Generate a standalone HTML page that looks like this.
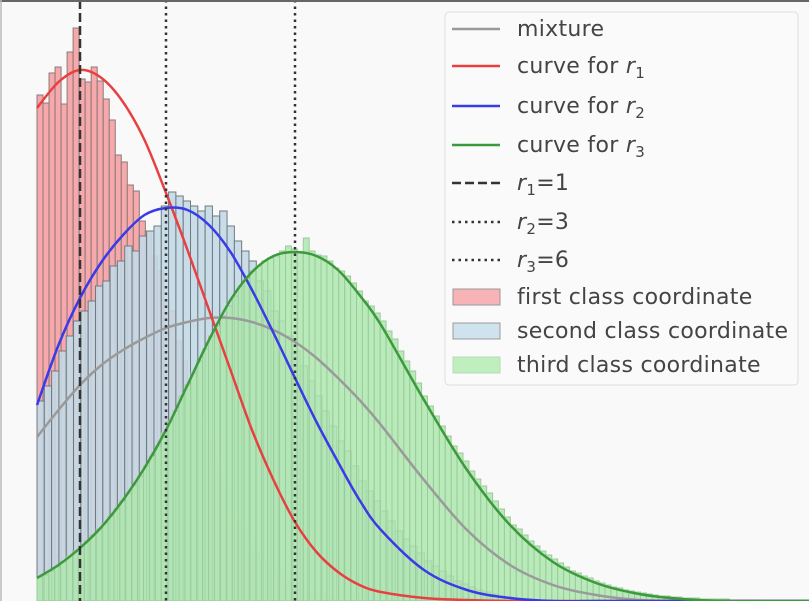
<!DOCTYPE html>
<html><head><meta charset="utf-8"><style>
html,body{margin:0;padding:0;background:#fff;}
svg{display:block;font-family:"DejaVu Sans","Liberation Sans",sans-serif;}
</style></head><body>
<svg id="chart" width="809" height="601" viewBox="0 0 809 601">
<rect x="0" y="0" width="809" height="601" fill="#f9f9f9"/>
<g id="bars"></g><g id="curves"></g><g id="vlines"></g>
<line x1="0" y1="1" x2="809" y2="1" stroke="#666" stroke-width="2"/>
<line x1="1" y1="0" x2="1" y2="601" stroke="#bbb" stroke-width="1.5"/>
<g id="legend">
<rect x="445" y="12" width="353" height="373" rx="4" fill="#fafafa" fill-opacity="0.85" stroke="#ddd"/>
<g font-size="22" fill="#444" letter-spacing="0.3">
<line x1="452" y1="29" x2="500" y2="29" stroke="#999" stroke-width="2.5"/><text x="517" y="36">mixture</text>
<line x1="452" y1="66" x2="500" y2="66" stroke="#e84040" stroke-width="2.5"/><text x="517" y="73">curve for <tspan font-style="italic">r</tspan><tspan font-size="15" dy="5">1</tspan></text>
<line x1="452" y1="106" x2="500" y2="106" stroke="#3a3ae8" stroke-width="2.5"/><text x="517" y="113">curve for <tspan font-style="italic">r</tspan><tspan font-size="15" dy="5">2</tspan></text>
<line x1="452" y1="145" x2="500" y2="145" stroke="#3c9a3c" stroke-width="2.5"/><text x="517" y="152">curve for <tspan font-style="italic">r</tspan><tspan font-size="15" dy="5">3</tspan></text>
<line x1="452" y1="183" x2="500" y2="183" stroke="#333" stroke-width="2.5" stroke-dasharray="9,4"/><text x="517" y="190"><tspan font-style="italic">r</tspan><tspan font-size="15" dy="5">1</tspan><tspan dy="-5">=1</tspan></text>
<line x1="452" y1="222" x2="500" y2="222" stroke="#333" stroke-width="2.5" stroke-dasharray="2.5,4"/><text x="517" y="229"><tspan font-style="italic">r</tspan><tspan font-size="15" dy="5">2</tspan><tspan dy="-5">=3</tspan></text>
<line x1="452" y1="260" x2="500" y2="260" stroke="#333" stroke-width="2.5" stroke-dasharray="2.5,4"/><text x="517" y="267"><tspan font-style="italic">r</tspan><tspan font-size="15" dy="5">3</tspan><tspan dy="-5">=6</tspan></text>
<rect x="453" y="289" width="47" height="16" fill="#f7b3b5" stroke="#999"/><text x="517" y="304">first class coordinate</text>
<rect x="453" y="323" width="47" height="16" fill="#cfe3ee" stroke="#999"/><text x="517" y="338">second class coordinate</text>
<rect x="453" y="357" width="47" height="16" fill="#bfeebf" stroke="#b5dcb5"/><text x="517" y="372">third class coordinate</text>
</g></g>
</svg>
<script>
const curveX=[0,0.5,1,1.5,2,2.5,3,3.5,4,4.5,5,5.5,6,6.5,7,7.5,8,9,10,11,12,13,14,15,16,17,18];
const redCurve=[493,519,531,523,499,461,408,351,291,231,171,121,79,49,29,16,9,3,1,0,0,0,0,0,0,0,0];
const blueCurve=[196,256,303,339,366,386,393,391,376,349,311,268,223,179,139,101,71,31,11,3,0,0,0,0,0,0,0];
const greenCurve=[23,36,53,74,101,133,171,216,261,301,329,345,349,345,331,306,276,201,131,76,39,18,7,2,0,0,0];
const mixCurve=[164,191,216,236,251,263,273,279,283,283,279,271,259,243,223,201,176,121,71,36,16,6,1,0,0,0,0];
const redBins=[506,498,528,534,497,549,573,522,519,534,520,502,481,446,439,416,410,380,370,345,330,300,290,260,240,220,200,180,160,140,125,110,95,80,70,60,50,40,35,30,25,20,16,12,10,8,6,5,4,3,2,2,1,1];
const blueBins=[200,215,230,250,265,280,290,300,315,320,335,340,355,350,365,370,375,395,409,405,400,395,390,395,385,390,375,360,350,340,320,310,290,280,265,250,235,220,205,190,175,160,150,135,120,110,100,90,80,70,62,55,48,40,35,30,25,20,17,14,11,9,7,5,4,3,2,2,1,1];
const greenBins=[24,26,30,34,40,45,50,55,60,66,72,78,85,92,100,108,116,125,135,145,155,168,180,190,205,216,228,240,252,265,275,285,295,305,315,323,330,335,340,343,345,350,355,352,348,363,350,346,345,340,333,330,325,318,310,300,295,288,280,270,262,250,240,230,218,205,195,185,175,165,155,148,140,130,122,115,108,100,92,84,76,72,66,60,55,50,46,42,38,34,30,28,25,23,20,18,16,14,13,11,10,9,8,7,6,5,5,4,4,3,3,3,2,2,2,2,2,1,1,1,1,1,1];
const refLines=[1,3,6];
const binW={red:0.14,blue:0.17,green:0.1376};
const NS='http://www.w3.org/2000/svg';
const xs=v=>37+43*v, ys=c=>601-c;
const bars=document.getElementById('bars');
function drawBars(arr,w,fill,stroke,op,name){
  const g=document.createElementNS(NS,'g');
  
  
  arr.forEach((c,i)=>{if(c<=0)return;
    const r=document.createElementNS(NS,'rect');
    r.setAttribute('x',xs(i*w));r.setAttribute('y',ys(c));
    r.setAttribute('width',xs((i+1)*w)-xs(i*w));r.setAttribute('height',c);
    r.setAttribute('fill',fill);r.setAttribute('fill-opacity',op);
    r.setAttribute('stroke',stroke);r.setAttribute('stroke-width','1');
    
    
    g.appendChild(r);});
  bars.appendChild(g);
}
drawBars(redBins,binW.red,'#f7a8ab','#8a7a7a',1,'first-class');
drawBars(blueBins,binW.blue,'#c3d9e6','#6f7a80',0.9,'second-class');
drawBars(greenBins,binW.green,'#aee8ae','#9cca9c',0.85,'third-class');
const curves=document.getElementById('curves');
function drawCurve(arr,color,name){
  const P=arr.map((c,i)=>[xs(curveX[i]),ys(c)]);
  let d='M'+P[0][0]+','+P[0][1];
  for(let i=0;i<P.length-1;i++){
    const p0=P[Math.max(0,i-1)],p1=P[i],p2=P[i+1],p3=P[Math.min(P.length-1,i+2)];
    const c1=[p1[0]+(p2[0]-p0[0])/6,p1[1]+(p2[1]-p0[1])/6];
    const c2=[p2[0]-(p3[0]-p1[0])/6,p2[1]-(p3[1]-p1[1])/6];
    d+='C'+c1[0]+','+c1[1]+' '+c2[0]+','+c2[1]+' '+p2[0]+','+p2[1];
  }
  const p=document.createElementNS(NS,'path');
  p.setAttribute('d',d);
  p.setAttribute('fill','none');p.setAttribute('stroke',color);p.setAttribute('stroke-width','2.5');
  p.setAttribute('stroke-linejoin','round');
  
  
  curves.appendChild(p);
}
drawCurve(mixCurve,'#9a9a9a','mixture-curve');
drawCurve(redCurve,'#e84040','curve-r1');
drawCurve(blueCurve,'#3a3ae8','curve-r2');
drawCurve(greenCurve,'#3c9a3c','curve-r3');
const vl=document.getElementById('vlines');
refLines.forEach((v,i)=>{
  const l=document.createElementNS(NS,'line');
  l.setAttribute('x1',xs(v));l.setAttribute('x2',xs(v));l.setAttribute('y1',0);l.setAttribute('y2',601);
  l.setAttribute('stroke','#333');l.setAttribute('stroke-width','2.5');
  l.setAttribute('stroke-dasharray',i==0?'9,4':'2.5,4');
  
  
  vl.appendChild(l);
});
</script>
</body></html>
